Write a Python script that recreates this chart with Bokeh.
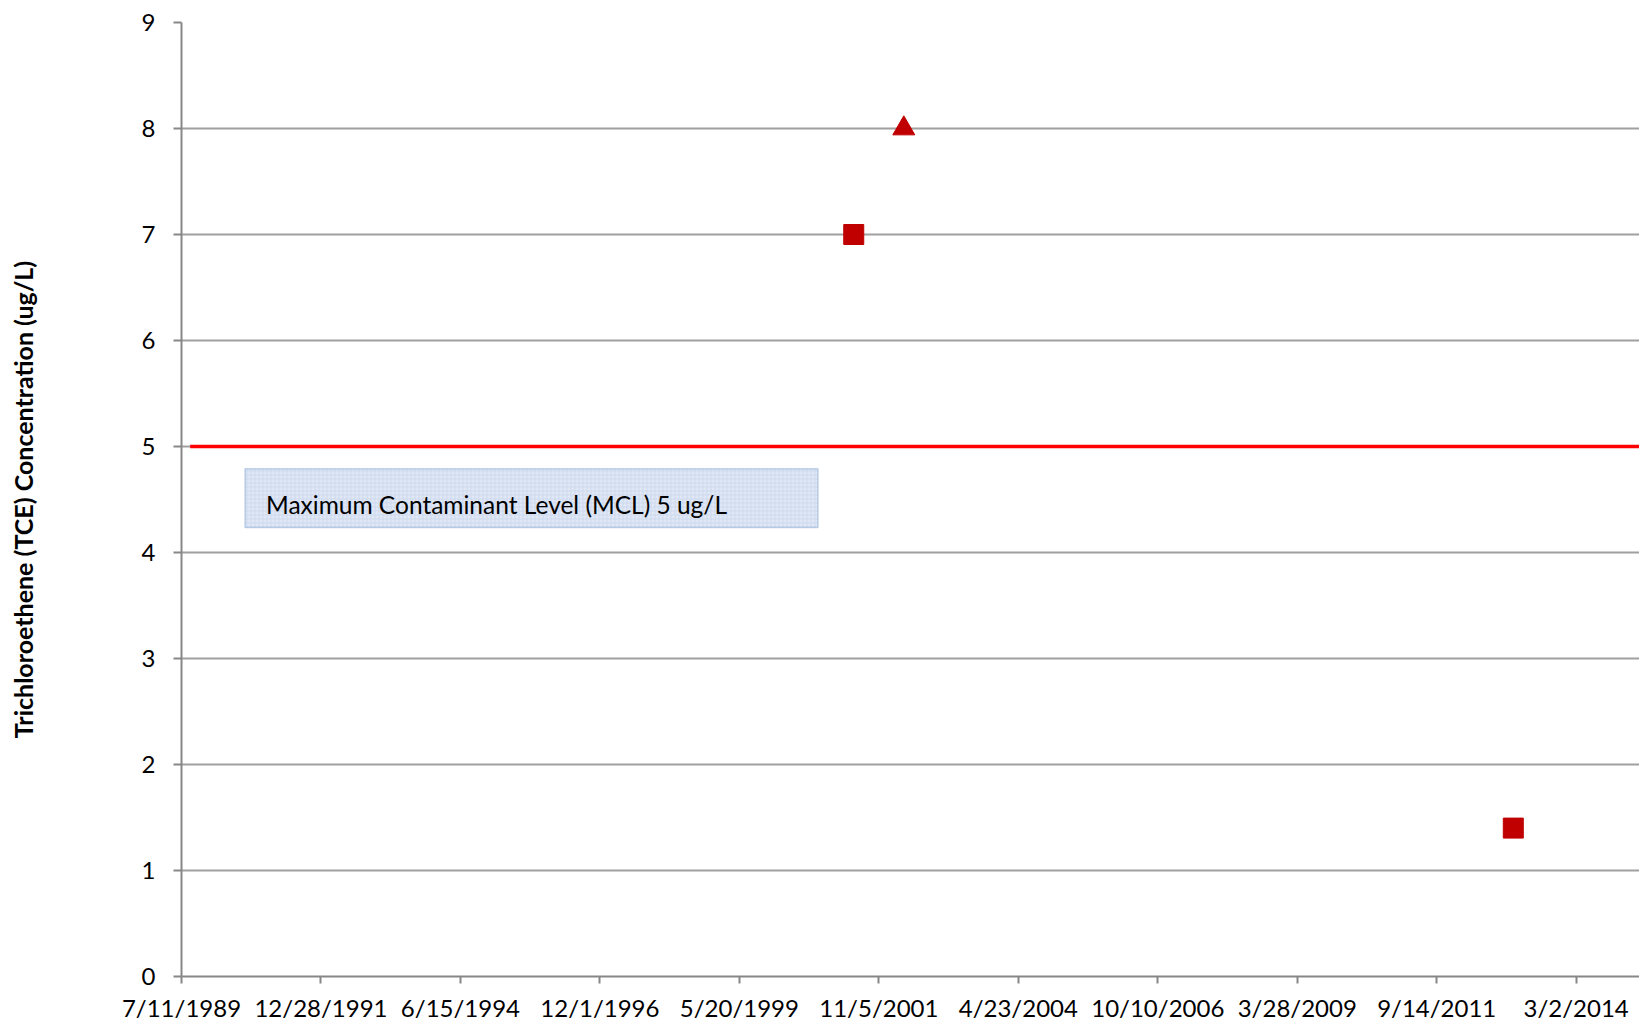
import pandas as pd
from bokeh.plotting import figure
from bokeh.models import FixedTicker, Range1d, BoxAnnotation, Label
from bokeh.embed import file_html
from bokeh.resources import INLINE

# ---------------- data ----------------
x_tick_labels = ["7/11/1989", "12/28/1991", "6/15/1994", "12/1/1996", "5/20/1999",
                 "11/5/2001", "4/23/2004", "10/10/2006", "3/28/2009", "9/14/2011", "3/2/2014"]
y_ticks = [0, 1, 2, 3, 4, 5, 6, 7, 8, 9]

square_dates = ["2001-05-27", "2013-01-20"]
square_values = [7.0, 1.4]

triangle_dates = ["2002-04-15"]
triangle_values = [8.0]

mcl_dates = ["1989-09-05", "2016-01-01"]
mcl_values = [5.0, 5.0]

mcl_text = "Maximum Contaminant Level (MCL) 5 ug/L"
y_title = "Trichloroethene (TCE) Concentration (ug/L)"

# ---------------- helpers ----------------
DAY = 86400000.0


def ms(d, fmt=None):
    return float(pd.Timestamp(pd.to_datetime(d, format=fmt)).timestamp() * 1000.0)


tick_ms = [ms(t, "%m/%d/%Y") for t in x_tick_labels]
x0 = tick_ms[0]

FONT = "Lato"
FRAME_L, FRAME_T, FRAME_B = 181, 22, 976
W, H = 1639, 1024

p = figure(width=W, height=H, x_axis_type="datetime",
           output_backend="svg", toolbar_location=None,
           min_border_left=FRAME_L, min_border_right=0, min_border_top=FRAME_T,
           min_border_bottom=H - FRAME_B)
px_per_day = (1575.5 - 180.8) / 9000.0
frame_w = W - FRAME_L
p.x_range = Range1d(x0, x0 + frame_w / px_per_day * DAY)
p.y_range = Range1d(0, 9)
p.outline_line_color = None
p.background_fill_color = "white"
p.border_fill_color = "white"

# axes
p.xaxis.ticker = FixedTicker(ticks=tick_ms)
p.xaxis.major_label_overrides = {t: lab for t, lab in zip(tick_ms, x_tick_labels)}
p.xaxis.minor_tick_line_color = None
p.xaxis.major_tick_in = 0
p.xaxis.major_tick_out = 7
p.xaxis.major_label_standoff = 9
p.xaxis.major_label_text_font = FONT
p.xaxis.major_label_text_font_size = "24px"
p.xaxis.major_label_text_color = "black"

p.yaxis.ticker = FixedTicker(ticks=y_ticks)
p.yaxis.minor_tick_line_color = None
p.yaxis.major_tick_in = 0
p.yaxis.major_tick_out = 8
p.yaxis.major_label_standoff = 18
p.yaxis.major_label_text_font = FONT
p.yaxis.major_label_text_font_size = "24px"
p.yaxis.major_label_text_color = "black"
p.yaxis.axis_label = y_title
p.yaxis.axis_label_text_font = FONT
p.yaxis.axis_label_text_font_style = "bold"
p.yaxis.axis_label_text_font_size = "25px"
p.yaxis.axis_label_text_color = "black"
p.yaxis.axis_label_standoff = 101

for ax in (p.xaxis, p.yaxis):
    ax.axis_line_color = "#878787"
    ax.axis_line_width = 2
    ax.major_tick_line_color = "#878787"
    ax.major_tick_line_width = 2

p.xgrid.grid_line_color = None
p.ygrid.grid_line_color = "#a0a0a0"
p.ygrid.grid_line_width = 2

# MCL line
p.line([ms(d) for d in mcl_dates], mcl_values, line_color="#ff0000", line_width=3.5)

# annotation box + text (placed in data space from the chart geometry)
px_per_unit = (FRAME_B - FRAME_T) / 9.0


def xd(px):
    return x0 + (px - FRAME_L) / px_per_day * DAY


def yd(py):
    return (FRAME_B - py) / px_per_unit


box = BoxAnnotation(left=xd(244.5), right=xd(817.5), top=yd(468.3), bottom=yd(527.0),
                    fill_color="#e0e8f5", fill_alpha=1.0,
                    hatch_pattern="+", hatch_color="#cdd9ee", hatch_scale=4, hatch_weight=1,
                    line_color="#4a7ebb", line_width=1.5, level="annotation")
p.add_layout(box)
lab = Label(x=xd(265.5), y=yd(503.7), text=mcl_text, text_font=FONT, text_font_size="24.5px",
            text_color="black", text_baseline="alphabetic", text_align="left", level="annotation")
p.add_layout(lab)

# data markers
p.scatter([ms(d) for d in square_dates], square_values, marker="square", size=20,
          fill_color="#c00000", line_color="#c00000", line_width=1)
p.scatter([ms(d) for d in triangle_dates], triangle_values, marker="triangle", size=22,
          fill_color="#c00000", line_color="#c00000", line_width=1)

open("out.html", "w").write(file_html(p, INLINE))
